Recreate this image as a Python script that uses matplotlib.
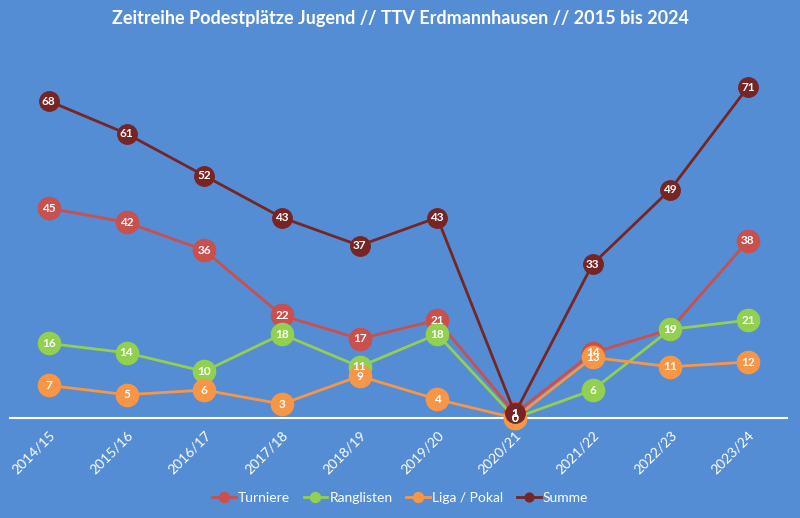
import matplotlib.pyplot as plt

plt.rcParams['font.family'] = ['Lato', 'DejaVu Sans']

seasons = ['2014/15', '2015/16', '2016/17', '2017/18', '2018/19',
           '2019/20', '2020/21', '2021/22', '2022/23', '2023/24']
turniere = [45, 42, 36, 22, 17, 21, 1, 14, 19, 38]
ranglisten = [16, 14, 10, 18, 11, 18, 0, 6, 19, 21]
liga_pokal = [7, 5, 6, 3, 9, 4, 0, 13, 11, 12]
summe = [68, 61, 52, 43, 37, 43, 1, 33, 49, 71]

bg = '#548DD4'
series = [
    ('Turniere', turniere, '#C9504C', 16),
    ('Ranglisten', ranglisten, '#92D050', 16),
    ('Liga / Pokal', liga_pokal, '#F79646', 16),
    ('Summe', summe, '#772424', 14),
]

fig = plt.figure(figsize=(8, 5.18), dpi=100, facecolor=bg)
ax = fig.add_axes([0.0125, 0.193, 0.971, 0.72])
ax.set_facecolor(bg)

x = list(range(len(seasons)))
for name, vals, col, ms in series:
    ax.plot(x, vals, color=col, lw=2, marker='o', ms=ms, mfc=col, mec=col,
            label=name, zorder=3, clip_on=False)
    for xi, v in zip(x, vals):
        ax.text(xi, v, str(v), color='white', fontsize=8.5, fontweight='bold',
                ha='center', va='center', zorder=4)

ax.set_xlim(-0.5, len(seasons) - 0.5)
ax.set_ylim(0, 80)
ax.set_yticks([])
ax.set_xticks(x)
ax.set_xticklabels(seasons, rotation=45, ha='right', rotation_mode='anchor',
                   color='white', fontsize=10)
ax.tick_params(axis='x', length=0, pad=8)
for s in ['top', 'right', 'left']:
    ax.spines[s].set_visible(False)
ax.spines['bottom'].set_color('white')
ax.spines['bottom'].set_linewidth(1.5)

fig.text(0.5, 0.965, 'Zeitreihe Podestplätze Jugend // TTV Erdmannhausen // 2015 bis 2024',
         color='white', fontsize=13, fontweight='bold', ha='center', va='center')

leg = fig.legend(loc='center', bbox_to_anchor=(0.5, 0.038), ncol=4, frameon=False,
                 fontsize=10, markerscale=0.45, handlelength=1.7, columnspacing=1.0,
                 handletextpad=0.15)
for t in leg.get_texts():
    t.set_color('white')

fig.savefig('out.png', dpi=100, facecolor=bg)
